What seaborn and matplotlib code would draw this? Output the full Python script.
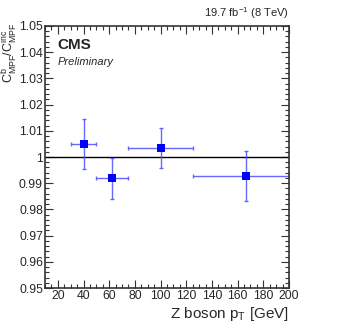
import matplotlib
matplotlib.use("Agg")
import matplotlib.pyplot as plt
import seaborn as sns
import pandas as pd
from matplotlib.ticker import MultipleLocator

pt_center = [40.0, 62.5, 100.0, 166.7]
pt_low = [30.0, 50.0, 75.0, 125.0]
pt_high = [50.0, 75.0, 125.0, 200.0]
ratio = [1.0050, 0.9918, 1.0034, 0.9928]
ratio_err = [0.0094, 0.0079, 0.0076, 0.0095]

df = pd.DataFrame({"pt": pt_center, "ratio": ratio})

sns.set_style("ticks")
plt.rcParams["font.family"] = ["Liberation Sans", "DejaVu Sans"]
plt.rcParams["mathtext.fontset"] = "custom"
plt.rcParams["mathtext.rm"] = "Liberation Sans"
plt.rcParams["mathtext.it"] = "Liberation Sans:italic"
plt.rcParams["mathtext.bf"] = "Liberation Sans:bold"

fig = plt.figure(figsize=(3.45, 3.32), dpi=100)
ax = fig.add_axes([0.1304, 0.1325, 0.7072, 0.7892])

xerr = [[c - l for c, l in zip(pt_center, pt_low)], [h - c for c, h in zip(pt_center, pt_high)]]
ax.errorbar(pt_center, ratio, xerr=xerr, yerr=ratio_err, fmt="none",
            ecolor=(0.3, 0.3, 1.0, 0.85), elinewidth=1.0, capsize=1.5, capthick=1.0, zorder=2)
ax.axhline(1.0, color="black", lw=1.0, zorder=1)
sns.scatterplot(data=df, x="pt", y="ratio", marker="s", color="#0000ff", s=30,
                edgecolor="#0000ff", linewidth=0, ax=ax, zorder=3)

ax.set_xlim(10, 200)
ax.set_ylim(0.95, 1.05)
ax.xaxis.set_minor_locator(MultipleLocator(5))
ax.yaxis.set_minor_locator(MultipleLocator(0.002))
ax.set_yticks([0.95, 0.96, 0.97, 0.98, 0.99, 1.0, 1.01, 1.02, 1.03, 1.04, 1.05])
ax.set_yticklabels(["0.95", "0.96", "0.97", "0.98", "0.99", "1", "1.01", "1.02", "1.03", "1.04", "1.05"])
ax.set_xticks([20, 40, 60, 80, 100, 120, 140, 160, 180, 200])
ax.set_xticklabels(["20", "40", "60", "80", "100", "120", "140", "160", "180", "200"])
ax.tick_params(which="both", direction="in", top=True, right=True, labelsize=8.8, color="#333333", width=0.8)
ax.tick_params(which="major", length=6, pad=1.5)
ax.tick_params(which="minor", length=3)
for s in ax.spines.values():
    s.set_linewidth(1.2)
    s.set_color("#333333")

ax.set_xlabel(r"Z boson p$_{\mathrm{T}}$ [GeV]", fontsize=11, loc="right", labelpad=2)
ax.set_ylabel(r"C$^{\mathrm{b}}_{\mathrm{MPF}}$/C$^{\mathrm{inc}}_{\mathrm{MPF}}$", fontsize=9, loc="top")
ax.yaxis.set_label_coords(-0.102, 1.015)

ax.text(0.05, 0.955, "CMS", transform=ax.transAxes, fontsize=11, fontweight="bold", va="top", ha="left")
ax.text(0.05, 0.88, "Preliminary", transform=ax.transAxes, fontsize=8, style="italic", va="top", ha="left")
fig.text(0.838, 0.96, r"19.7 fb$^{-1}$ (8 TeV)", fontsize=8, ha="right", va="center")

fig.savefig("out.png", dpi=100)
